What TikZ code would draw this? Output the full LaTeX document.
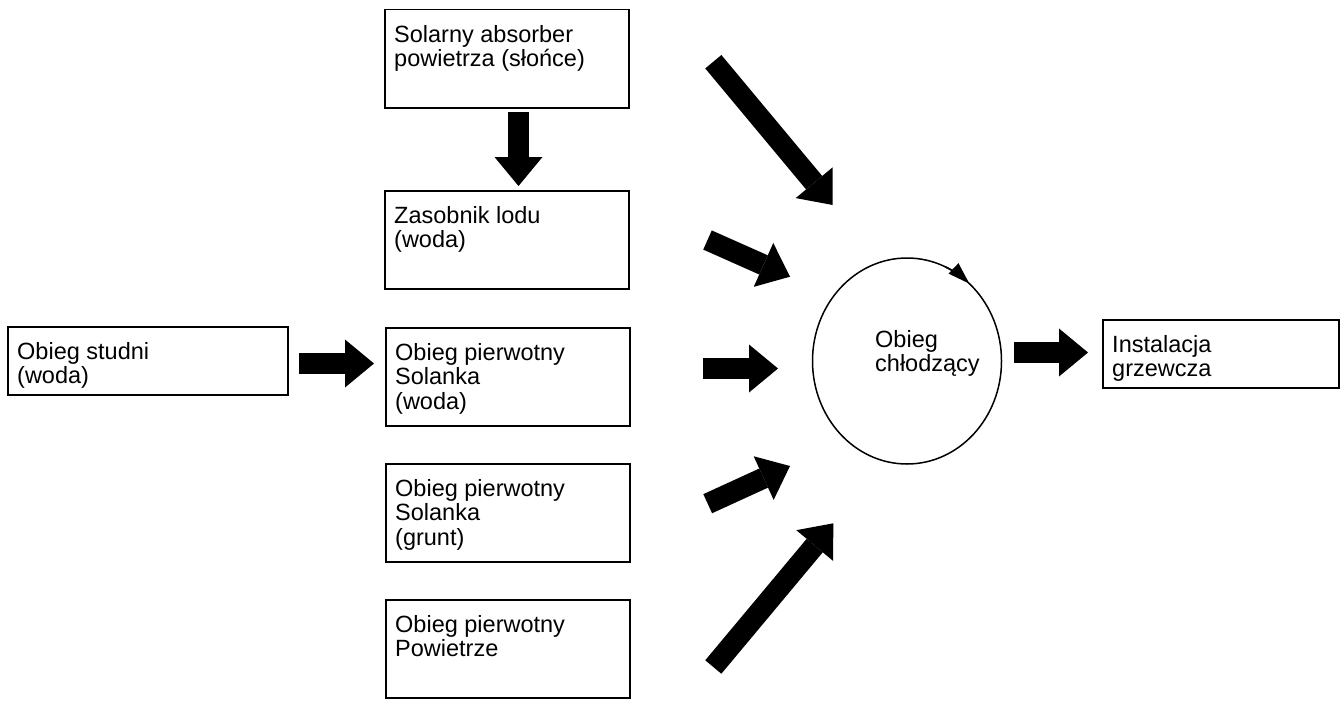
\documentclass[tikz,border=0pt]{standalone}
\usepackage{fontspec}
\setmainfont{Liberation Sans}
\usetikzlibrary{arrows.meta,shapes.geometric}
\tikzset{
  box/.style={draw, line width=1.5pt, anchor=north west, inner sep=0pt},
  txt/.style={anchor=north west, align=left, inner sep=0pt, font=\fontsize{23.5}{24.5}\selectfont},
  fat/.style={line width=21pt, -{Triangle[length=29pt,width=48pt,line width=0pt]}}
}
\begin{document}
\begin{tikzpicture}[x=1pt,y=-1pt]
\useasboundingbox (0,0) rectangle (1340,717);
\node[box, minimum width=244, minimum height=98] (solar) at (384,9) {};
\node[box, minimum width=244, minimum height=98] (lod) at (384,190) {};
\node[box, minimum width=244, minimum height=98] (woda) at (385,327) {};
\node[box, minimum width=244, minimum height=98] (grunt) at (385,463) {};
\node[box, minimum width=244, minimum height=98] (powietrze) at (385,599) {};
\node[box, minimum width=280, minimum height=68] (studnia) at (7,326) {};
\node[box, minimum width=236, minimum height=68] (instalacja) at (1102,319) {};
\node[txt] (solartxt) at ([shift={(10,16)}]solar.north west) {Solarny absorber\\powietrza (słońce)};
\node[txt] (lodtxt) at ([shift={(10,16)}]lod.north west) {Zasobnik lodu\\(woda)};
\node[txt] (wodatxt) at ([shift={(10,16)}]woda.north west) {Obieg pierwotny\\Solanka\\(woda)};
\node[txt] (grunttxt) at ([shift={(10,16)}]grunt.north west) {Obieg pierwotny\\Solanka\\(grunt)};
\node[txt] (powietrzetxt) at ([shift={(10,16)}]powietrze.north west) {Obieg pierwotny\\Powietrze};
\node[txt] (studniatxt) at ([shift={(10,16)}]studnia.north west) {Obieg studni\\(woda)};
\node[txt] (instalacjatxt) at ([shift={(10,16)}]instalacja.north west) {Instalacja\\grzewcza};
\node[draw, ellipse, line width=1.5pt, minimum width=189, minimum height=206, inner sep=0pt] (obieg) at (907,361) {};
\node[txt] (obiegtxt) at (875,330) {Obieg\\chłodzący};
\draw[line width=1.5pt, -{Triangle[length=22pt,width=14pt]}] ([shift={(-66:94.5 and 103)}]obieg.center) arc[start angle=-66, end angle=-48.7, x radius=94.5, y radius=103];
\coordinate (s1) at (518.5,112);   \coordinate (e1) at (518.5,186);
\coordinate (s2) at (713.3,61.7);  \coordinate (e2) at (832.7,205);
\coordinate (s3) at (707.5,240);   \coordinate (e3) at (790,276.7);
\coordinate (s4) at (703,368.5);   \coordinate (e4) at (778,368.5);
\coordinate (s5) at (707.7,503.7); \coordinate (e5) at (790,466);
\coordinate (s6) at (713.3,667);   \coordinate (e6) at (833.3,523.3);
\coordinate (s7) at (299,363.5);   \coordinate (e7) at (374,363.5);
\coordinate (s8) at (1014,352.5);  \coordinate (e8) at (1088,352.5);
\foreach \i in {1,...,8} {
\draw[fat] (s\i) -- (e\i);
}
\end{tikzpicture}
\end{document}
